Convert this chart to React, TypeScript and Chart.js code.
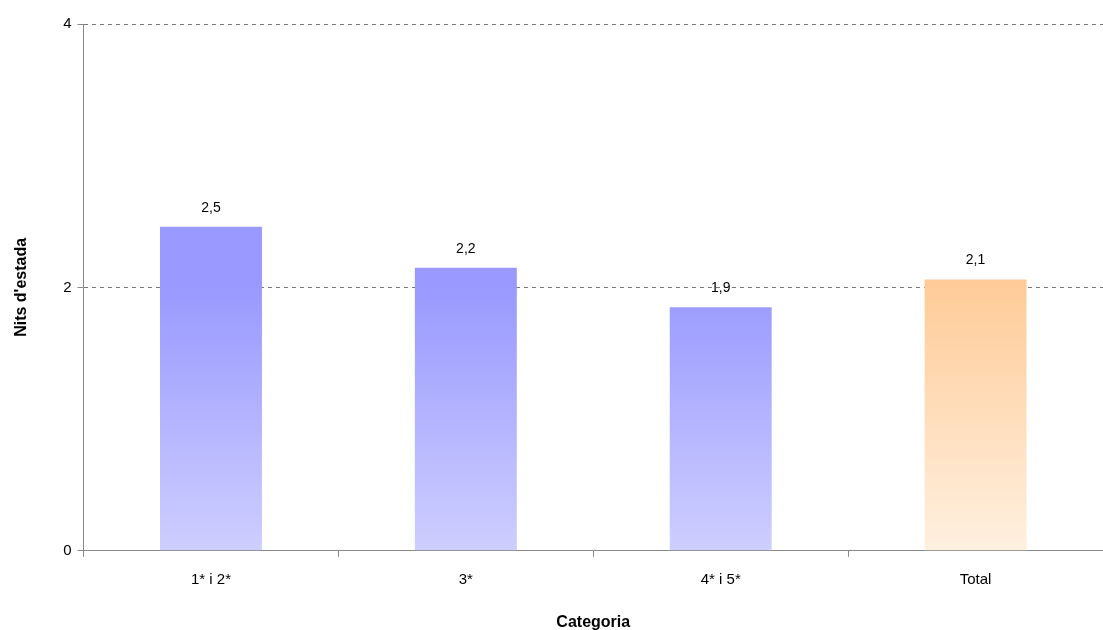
import React, { useEffect, useRef } from "react";
import Chart from "chart.js/auto";

const categories = ["1* i 2*", "3*", "4* i 5*", "Total"];
const values = [2.46, 2.15, 1.85, 2.06];
const labels = ["2,5", "2,2", "1,9", "2,1"];
const yTicks = [0, 2, 4];

const FONT = "'Liberation Sans', Arial, sans-serif";

const App: React.FC = () => {
  const chartRef = useRef<HTMLCanvasElement>(null);
  const chartInstance = useRef<Chart | null>(null);

  useEffect(() => {
    document.body.style.margin = "0";
    if (!chartRef.current) return;
    const ctx = chartRef.current.getContext("2d");
    if (!ctx) return;

    const valueLabels = {
      id: "valueLabels",
      afterDatasetsDraw(chart: Chart) {
        const c = chart.ctx;
        const meta = chart.getDatasetMeta(0);
        c.save();
        c.font = `14px ${FONT}`;
        c.fillStyle = "#000";
        c.textAlign = "center";
        c.textBaseline = "bottom";
        meta.data.forEach((bar: any, i: number) => {
          c.fillText(labels[i], bar.x, bar.y - 12);
        });
        c.restore();
      },
    };

    chartInstance.current = new Chart(ctx, {
      type: "bar",
      data: {
        labels: categories,
        datasets: [
          {
            data: values,
            barPercentage: 0.4,
            categoryPercentage: 1,
            backgroundColor: (context: any) => {
              const area = context.chart.chartArea;
              if (!area) return "#9999ff";
              const g = context.chart.ctx.createLinearGradient(0, area.top, 0, area.bottom);
              if (context.dataIndex === 3) {
                g.addColorStop(0.5, "#ffcc99");
                g.addColorStop(1, "#fff0e0");
              } else {
                g.addColorStop(0.5, "#9999ff");
                g.addColorStop(1, "#ceceff");
              }
              return g;
            },
          },
        ],
      },
      plugins: [valueLabels],
      options: {
        responsive: false,
        animation: false,
        layout: { padding: { top: 24, right: 0, left: 12, bottom: -2 } },
        plugins: { legend: { display: false }, tooltip: { enabled: false } },
        scales: {
          x: {
            offset: true,
            grid: {
              offset: true,
              drawOnChartArea: false,
              tickLength: 6,
              color: "#888",
            },
            border: { color: "#888" },
            ticks: { color: "#000", font: { family: FONT, size: 15 }, padding: 14 },
            title: {
              display: true,
              text: "Categoria",
              color: "#000",
              font: { family: FONT, size: 16, weight: "bold" },
              padding: { top: 10, bottom: 0 },
            },
          },
          y: {
            min: 0,
            max: 4,
            afterBuildTicks: (axis: any) => {
              axis.ticks = yTicks.map((v) => ({ value: v }));
            },
            grid: {
              color: (c: any) => (c.tick && c.tick.value === 0 ? "rgba(0,0,0,0)" : "#777"),
              tickColor: "#888",
              tickLength: 6,
              tickBorderDash: [],
            },
            border: { color: "#888", dash: [4, 4] },
            ticks: { color: "#000", font: { family: FONT, size: 15 }, padding: 6 },
            title: {
              display: true,
              text: "Nits d'estada",
              color: "#000",
              font: { family: FONT, size: 16, weight: "bold" },
              padding: { top: 0, bottom: 26 },
            },
          },
        },
      },
    } as any);

    return () => {
      chartInstance.current?.destroy();
    };
  }, []);

  return (
    <div style={{ width: 1103, height: 630 }}>
      <canvas ref={chartRef} width={1103} height={630} />
    </div>
  );
};

export default App;
